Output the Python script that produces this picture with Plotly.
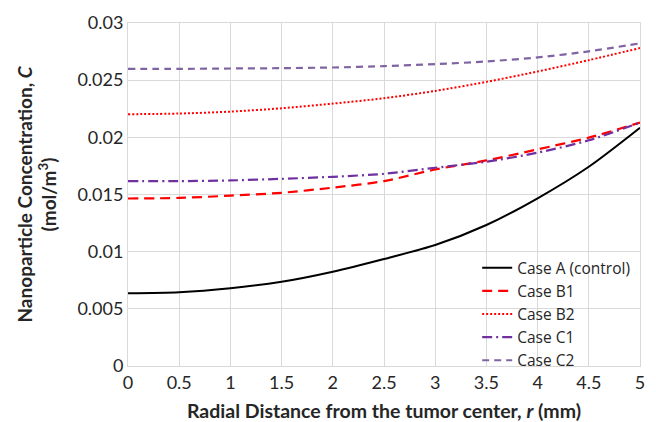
import plotly.graph_objects as go

r = [0, 0.5, 1, 1.5, 2, 2.5, 3, 3.5, 4, 4.5, 5]
case_a = [0.00636, 0.00645, 0.00680, 0.00737, 0.00825, 0.00936, 0.01058, 0.01233, 0.01467, 0.01743, 0.02084]
case_b1 = [0.01465, 0.01470, 0.01490, 0.01515, 0.01560, 0.01617, 0.01719, 0.01798, 0.01895, 0.01997, 0.02129]
case_b2 = [0.02202, 0.02208, 0.02225, 0.02254, 0.02295, 0.02342, 0.02406, 0.02485, 0.02576, 0.02675, 0.02781]
case_c1 = [0.01617, 0.01617, 0.01623, 0.01637, 0.01655, 0.01681, 0.01734, 0.01787, 0.01866, 0.01974, 0.02129]
case_c2 = [0.02599, 0.02599, 0.02602, 0.02605, 0.02611, 0.02623, 0.02640, 0.02664, 0.02699, 0.02752, 0.02822]

names = ["Case A (control)", "Case B1", "Case B2", "Case C1", "Case C2"]
series = [case_a, case_b1, case_b2, case_c1, case_c2]
colors = ["#000000", "#ff0000", "#ff0000", "#7030a0", "#8064a2"]
dashes = ["solid", "10px,6px", "2px,2px", "10px,4px,2px,4px", "7px,5px"]
widths = [2, 2.2, 2, 2.2, 2.2]

FONT = "Lato, 'Open Sans', sans-serif"
TXT = "#262626"

fig = go.Figure()
for n, s, c, d, w in zip(names, series, colors, dashes, widths):
    fig.add_trace(go.Scatter(x=r, y=s, name=n, mode="lines",
                             line=dict(color=c, dash=d, width=w, shape="spline", smoothing=0.8)))

fig.update_layout(
    width=656, height=422,
    margin=dict(l=128, r=16, t=23, b=56),
    paper_bgcolor="white", plot_bgcolor="white",
    font=dict(family=FONT, size=18, color=TXT),
    xaxis=dict(range=[0, 5], dtick=0.5, tick0=0, showgrid=True, gridcolor="#d9d9d9", gridwidth=1,
               showline=True, linecolor="#d9d9d9", mirror=True, zeroline=False, automargin=False,
               ticks="", tickfont=dict(size=18, color=TXT), tickformat="~g",
               title=dict(text="<b>Radial Distance from the tumor center, <i>r</i> (mm)</b>",
                          font=dict(size=19.5, color=TXT), standoff=13)),
    yaxis=dict(range=[0, 0.03], dtick=0.005, tick0=0, showgrid=True, gridcolor="#d9d9d9", gridwidth=1,
               showline=True, linecolor="#d9d9d9", mirror=True, zeroline=False, automargin=False,
               ticks="", tickfont=dict(size=18, color=TXT), tickformat="~g",
               title=dict(text="<b>Nanoparticle Concentration, <i>C</i><br>(mol/m<sup>3</sup>)</b>",
                          font=dict(size=19, color=TXT), standoff=15)),
    legend=dict(x=0.682, y=0.335, xanchor="left", yanchor="top",
                bgcolor="rgba(0,0,0,0)", font=dict(family="'Open Sans', sans-serif", size=15.5, color=TXT),
                tracegroupgap=0, itemwidth=30),
    showlegend=True,
)

fig.write_html("out.html")
